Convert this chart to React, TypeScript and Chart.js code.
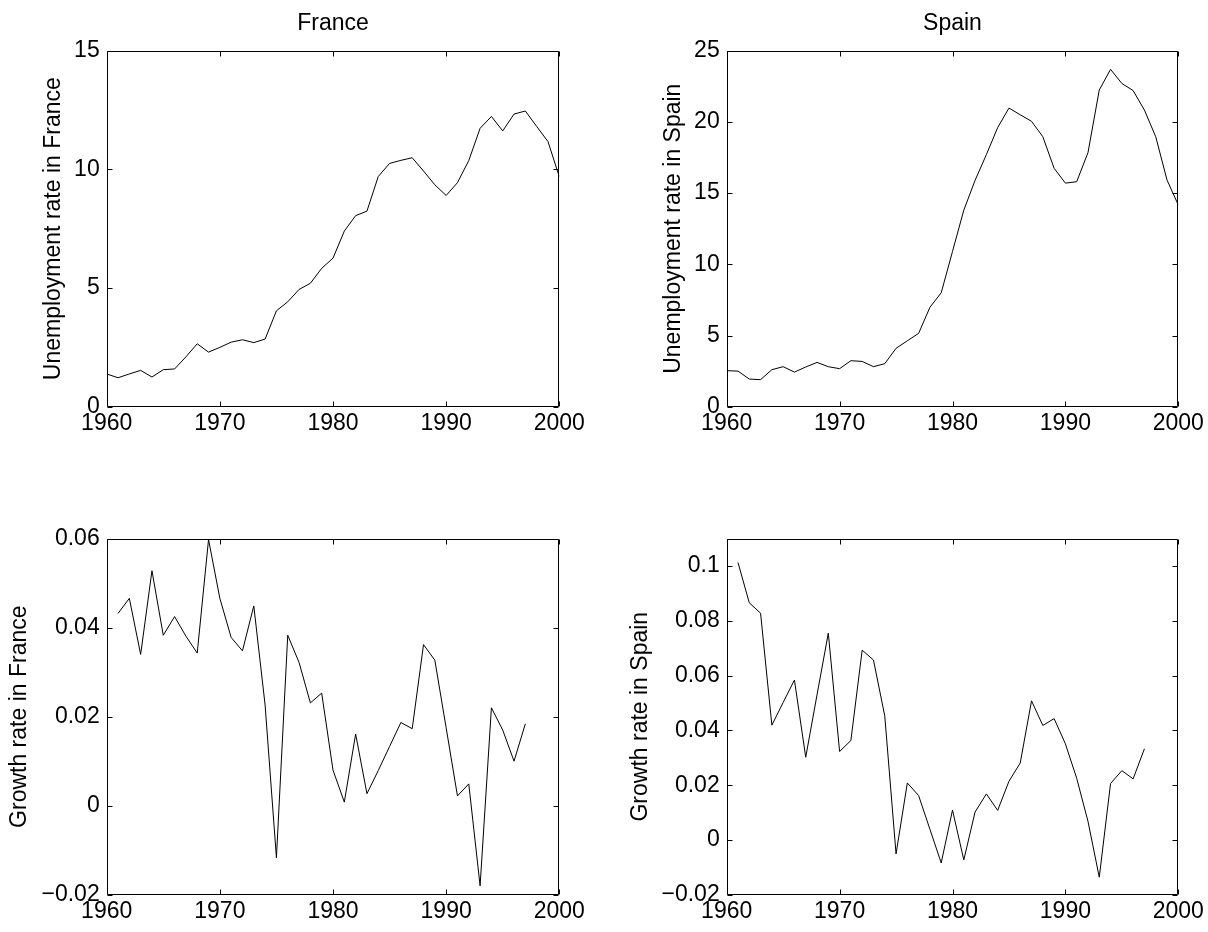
import React, { useEffect, useRef } from 'react';
import { Chart, registerables } from 'chart.js';

Chart.register(...registerables);
Chart.defaults.font.family = '"Liberation Sans", Arial, Helvetica, sans-serif';
Chart.defaults.color = '#000';

// ---------------- data ----------------
const yearsUnemp = [
  1960, 1961, 1962, 1963, 1964, 1965, 1966, 1967, 1968, 1969,
  1970, 1971, 1972, 1973, 1974, 1975, 1976, 1977, 1978, 1979,
  1980, 1981, 1982, 1983, 1984, 1985, 1986, 1987, 1988, 1989,
  1990, 1991, 1992, 1993, 1994, 1995, 1996, 1997, 1998, 1999, 2000,
];
const franceUnemp = [
  1.38, 1.22, 1.38, 1.53, 1.25, 1.56, 1.59, 2.1, 2.65, 2.3,
  2.5, 2.72, 2.82, 2.7, 2.85, 4.04, 4.42, 4.94, 5.2, 5.83,
  6.26, 7.4, 8.05, 8.24, 9.7, 10.25, 10.38, 10.49, 9.93, 9.35,
  8.9, 9.44, 10.37, 11.73, 12.23, 11.62, 12.33, 12.46, 11.81, 11.17, 9.69,
];
const spainUnemp = [
  2.53, 2.5, 1.94, 1.9, 2.6, 2.81, 2.43, 2.79, 3.11, 2.81,
  2.67, 3.23, 3.18, 2.81, 3.02, 4.1, 4.63, 5.15, 6.98, 8.0,
  10.9, 13.8, 15.9, 17.7, 19.6, 20.97, 20.5, 20.04, 18.96, 16.74,
  15.7, 15.8, 17.84, 22.24, 23.69, 22.7, 22.2, 20.83, 18.96, 15.92, 14.16,
];
const yearsGrowth = [
  1961, 1962, 1963, 1964, 1965, 1966, 1967, 1968, 1969, 1970,
  1971, 1972, 1973, 1974, 1975, 1976, 1977, 1978, 1979, 1980,
  1981, 1982, 1983, 1984, 1985, 1986, 1987, 1988, 1989, 1990,
  1991, 1992, 1993, 1994, 1995, 1996, 1997,
];
const franceGrowth = [
  0.0432, 0.0466, 0.034, 0.0528, 0.0383, 0.0425, 0.0381, 0.0343, 0.0598, 0.0466,
  0.0378, 0.0348, 0.0449, 0.0226, -0.0117, 0.0383, 0.0322, 0.0231, 0.0253, 0.008,
  0.0008, 0.0161, 0.0027, 0.0079, 0.0133, 0.0187, 0.0173, 0.0362, 0.0327, 0.0175,
  0.0022, 0.0049, -0.018, 0.022, 0.017, 0.01, 0.0184,
];
const spainGrowth = [
  0.1013, 0.0866, 0.0828, 0.0419, 0.0502, 0.0584, 0.0302, 0.053, 0.0755, 0.0323,
  0.0363, 0.0693, 0.0657, 0.0453, -0.0051, 0.0208, 0.0162, 0.0039, -0.0084, 0.0109,
  -0.0073, 0.0102, 0.0168, 0.0108, 0.0214, 0.0281, 0.0508, 0.0418, 0.0443, 0.0351,
  0.0225, 0.0068, -0.0136, 0.0206, 0.0253, 0.0223, 0.0333,
];

const xTicks = [1960, 1970, 1980, 1990, 2000];
const franceUnempTicks = [0, 5, 10, 15];
const spainUnempTicks = [0, 5, 10, 15, 20, 25];
const franceGrowthTicks = [-0.02, 0, 0.02, 0.04, 0.06];
const spainGrowthTicks = [-0.02, 0, 0.02, 0.04, 0.06, 0.08, 0.1];

// ---------------- layout ----------------
const W = 604;
const H = 466;
const TICK_FONT = 23;
const LABEL_FONT = 23;
const FONT_FAMILY = '"Liberation Sans", Arial, Helvetica, sans-serif';

function fmt(v: number): string {
  const r = Math.round(v * 10000) / 10000;
  if (r < 0) return '\u2212' + String(-r);
  return String(r);
}

const framePlugin = {
  id: 'matlabFrame',
  afterDraw(chart: any) {
    const { ctx, chartArea: a, scales } = chart;
    const L = Math.round(a.left) + 0.5;
    const R = Math.round(a.right) - 0.5;
    const T = Math.round(a.top) + 0.5;
    const B = Math.round(a.bottom) - 0.5;
    const len = 5;
    ctx.save();
    ctx.strokeStyle = '#000';
    ctx.lineWidth = 1;
    ctx.beginPath();
    ctx.rect(L, T, R - L, B - T);
    for (const t of scales.x.ticks) {
      const px = Math.round(scales.x.getPixelForValue(t.value)) + 0.5;
      ctx.moveTo(px, B);
      ctx.lineTo(px, B - len);
      ctx.moveTo(px, T);
      ctx.lineTo(px, T + len);
    }
    for (const t of scales.y.ticks) {
      const py = Math.round(scales.y.getPixelForValue(t.value)) + 0.5;
      ctx.moveTo(L, py);
      ctx.lineTo(L + len, py);
      ctx.moveTo(R, py);
      ctx.lineTo(R - len, py);
    }
    ctx.stroke();
    // panel title, centred over the axes box
    const title = chart.options.plugins.panelTitle && chart.options.plugins.panelTitle.text;
    if (title) {
      ctx.fillStyle = '#000';
      ctx.font = `${TICK_FONT}px ${FONT_FAMILY}`;
      ctx.textAlign = 'center';
      ctx.textBaseline = 'middle';
      ctx.fillText(title, (a.left + a.right) / 2, 23.5);
    }
    ctx.restore();
  },
};

interface PanelSpec {
  xs: number[];
  ys: number[];
  yMin: number;
  yMax: number;
  yTicks: number[];
  title?: string;
  yLabel: string;
  area: { left: number; top: number; right: number; bottom: number };
  labelAnchor: number;
}

function makeConfig(p: PanelSpec): any {
  const lh = LABEL_FONT * 1.2;
  return {
    type: 'line',
    data: {
      datasets: [
        {
          data: p.xs.map((x, i) => ({ x, y: p.ys[i] })),
          borderColor: '#000',
          borderWidth: 1,
          pointRadius: 0,
          tension: 0,
          fill: false,
        },
      ],
    },
    options: {
      responsive: false,
      animation: false,
      devicePixelRatio: 1,
      layout: {
        padding: { left: 0, right: W - p.area.right, top: p.area.top, bottom: 0 },
      },
      plugins: {
        legend: { display: false },
        tooltip: { enabled: false },
        title: { display: false },
        panelTitle: { text: p.title || '' },
      },
      scales: {
        x: {
          type: 'linear',
          min: 1960,
          max: 2000,
          grid: { display: false, drawTicks: false },
          border: { display: false },
          afterBuildTicks: (s: any) => {
            s.ticks = xTicks.map((v) => ({ value: v }));
          },
          ticks: {
            color: '#000',
            font: { size: TICK_FONT },
            padding: 3,
            maxRotation: 0,
            autoSkip: false,
            callback: (v: any) => String(v),
          },
          afterFit: (s: any) => {
            s.height = H - p.area.bottom;
          },
        },
        y: {
          type: 'linear',
          min: p.yMin,
          max: p.yMax,
          grid: { display: false, drawTicks: false },
          border: { display: false },
          afterBuildTicks: (s: any) => {
            s.ticks = p.yTicks.map((v) => ({ value: v }));
          },
          ticks: {
            color: '#000',
            font: { size: TICK_FONT },
            padding: 7,
            autoSkip: false,
            callback: (v: any) => fmt(Number(v)),
          },
          title: {
            display: true,
            text: p.yLabel,
            color: '#000',
            font: { size: LABEL_FONT },
            padding: { top: p.labelAnchor - lh / 2, bottom: 0 },
          },
          afterFit: (s: any) => {
            s.width = p.area.left;
          },
        },
      },
    },
    plugins: [framePlugin],
  };
}

function Panel({ left, top, spec }: { left: number; top: number; spec: PanelSpec }) {
  const ref = useRef<HTMLCanvasElement | null>(null);
  useEffect(() => {
    if (!ref.current) return;
    const chart = new Chart(ref.current, makeConfig(spec));
    return () => chart.destroy();
  }, []);
  return (
    <canvas
      ref={ref}
      width={W}
      height={H}
      style={{ position: 'absolute', left, top, width: W, height: H }}
    />
  );
}

const topArea = { top: 50.7, bottom: 406.7 };
const bottomArea = { top: 538.7 - H, bottom: 894.7 - H };

export default function App() {
  return (
    <div style={{ position: 'absolute', left: 0, top: 0, width: 1208, height: 932, background: '#fff' }}>
      <Panel
        left={0}
        top={0}
        spec={{
          xs: yearsUnemp,
          ys: franceUnemp,
          yMin: 0,
          yMax: 15,
          yTicks: franceUnempTicks,
          title: 'France',
          yLabel: 'Unemployment rate in France',
          area: { left: 106.7, right: 559.3, ...topArea },
          labelAnchor: 54,
        }}
      />
      <Panel
        left={W}
        top={0}
        spec={{
          xs: yearsUnemp,
          ys: spainUnemp,
          yMin: 0,
          yMax: 25,
          yTicks: spainUnempTicks,
          title: 'Spain',
          yLabel: 'Unemployment rate in Spain',
          area: { left: 726.7 - W, right: 1178.3 - W, ...topArea },
          labelAnchor: 69.5,
        }}
      />
      <Panel
        left={0}
        top={H}
        spec={{
          xs: yearsGrowth,
          ys: franceGrowth,
          yMin: -0.02,
          yMax: 0.06,
          yTicks: franceGrowthTicks,
          yLabel: 'Growth rate in France',
          area: { left: 106.7, right: 559.3, ...bottomArea },
          labelAnchor: 20,
        }}
      />
      <Panel
        left={W}
        top={H}
        spec={{
          xs: yearsGrowth,
          ys: spainGrowth,
          yMin: -0.02,
          yMax: 0.11,
          yTicks: spainGrowthTicks,
          yLabel: 'Growth rate in Spain',
          area: { left: 726.7 - W, right: 1178.3 - W, ...bottomArea },
          labelAnchor: 37,
        }}
      />
    </div>
  );
}
